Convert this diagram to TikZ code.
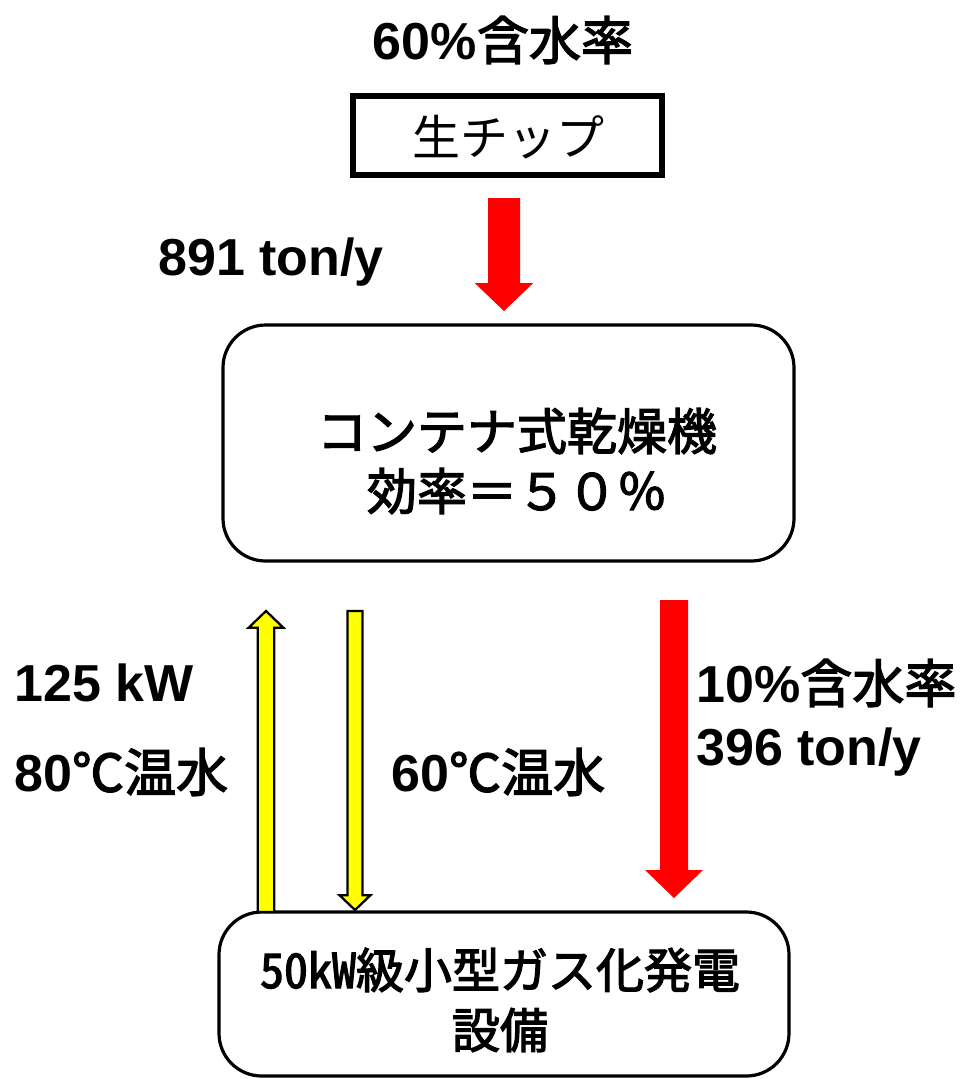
\documentclass[tikz,border=0pt]{standalone}
\usepackage{fontspec}
\setmainfont{Liberation Sans}
\newfontfamily\jp{Noto Sans CJK JP}
\newfontfamily\jpm[FakeBold=2.5]{Noto Sans CJK JP}
\newfontfamily\jphw[RawFeature=+hwid,FakeBold=2.5]{Noto Sans CJK JP}
\usetikzlibrary{calc}
\newcommand\blockarrow[6][]{%
  \coordinate (ba-h) at ($(#3)!#6!(#2)$);
  \path[#1] ($(#2)!#4!90:(#3)$) -- ($(ba-h)!#4!-90:(#2)$) -- ($(ba-h)!#5!-90:(#2)$)
    -- (#3) -- ($(ba-h)!#5!90:(#2)$) -- ($(ba-h)!#4!90:(#2)$) -- ($(#2)!#4!-90:(#3)$) -- cycle;}
\tikzset{
  lbl/.style={inner sep=0pt, font=\fontsize{39}{47}\selectfont\bfseries},
  boxtxt/.style={inner sep=0pt, align=center},
  roundbox/.style={draw, line width=2.4pt, rounded corners=32pt},
  redarrow/.style={fill={rgb,255:red,255;green,0;blue,0}},
  yelarrow/.style={fill={rgb,255:red,255;green,255;blue,0}, draw=black, line width=1.7pt, line join=miter},
}
\begin{document}
\begin{tikzpicture}[x=0.75pt,y=-0.75pt]
\useasboundingbox (0,0) rectangle (971,1079);
% boxes
\draw[line width=4.5pt] (353,96) rectangle (662,175);
\node[boxtxt, font=\fontsize{36}{44}\selectfont\jp] (chip) at (508,137) {生チップ};
\draw[roundbox] (223,325) rectangle (794,561);
\node[boxtxt, font=\fontsize{37.5}{45}\selectfont\jpm] (dryer1) at (517,431) {コンテナ式乾燥機};
\node[boxtxt, font=\fontsize{37.5}{45}\selectfont\jpm] (dryer2) at (517,491) {効率＝５０％};
\draw[roundbox] (219,912) rectangle (789,1076);
\node[boxtxt, font=\fontsize{36}{44}\selectfont\jphw] (gas1) at (500,970) {50kW級小型ガス化発電};
\node[boxtxt, font=\fontsize{36}{44}\selectfont\jphw] (gas2) at (500,1030) {設備};
% labels
\node[lbl] (moist1) at (503,40) {60\%{\mdseries\jpm 含水率}};
\node[lbl] (flow1) at (271,262) {891 ton/y};
\node[lbl, anchor=west] (kw) at (14,683) {125 kW};
\node[lbl, anchor=west] (hot) at (14,772) {80{\mdseries\jpm ℃温水}};
\node[lbl, anchor=west] (warm) at (391,772) {60{\mdseries\jpm ℃温水}};
\node[lbl, anchor=west] (moist2) at (696,683) {10\%{\mdseries\jpm 含水率}};
\node[lbl, anchor=west] (flow2) at (696,752) {396 ton/y};
% arrows
\coordinate (a1s) at (504,198); \coordinate (a1e) at (504,311);
\blockarrow[redarrow]{a1s}{a1e}{12pt}{22pt}{21pt}
\coordinate (a2s) at (674,600); \coordinate (a2e) at (674,898);
\blockarrow[redarrow]{a2s}{a2e}{10.5pt}{21.75pt}{21pt}
\coordinate (y1s) at (266,912); \coordinate (y1e) at (266,611);
\blockarrow[yelarrow]{y1s}{y1e}{6.2pt}{13pt}{12.5pt}
\coordinate (y2s) at (355,611); \coordinate (y2e) at (355,910);
\blockarrow[yelarrow]{y2s}{y2e}{5.6pt}{11.5pt}{11pt}
\end{tikzpicture}
\end{document}
